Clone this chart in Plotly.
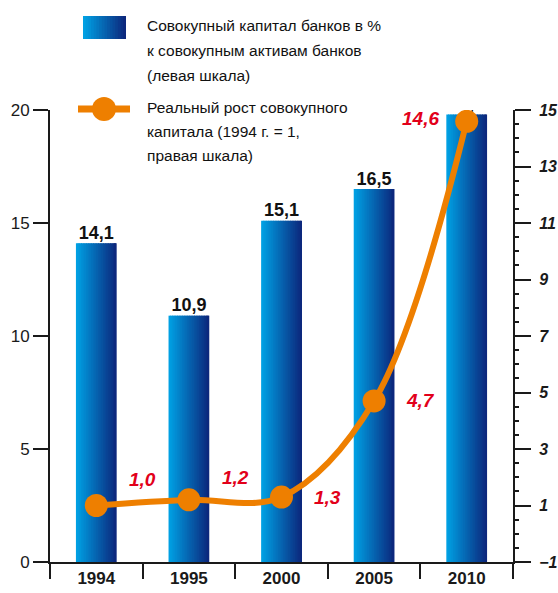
import plotly.graph_objects as go

# data
years = ["1994", "1995", "2000", "2005", "2010"]
capital_to_assets = [14.1, 10.9, 15.1, 16.5, 19.8]      # left scale, %
real_capital_growth = [1.0, 1.2, 1.3, 4.7, 14.6]         # right scale, 1994 = 1

bar_legend_lines = ["Совокупный капитал банков в %", "к совокупным активам банков", "(левая шкала)"]
line_legend_lines = ["Реальный рост совокупного", "капитала (1994 г. = 1,", "правая шкала)"]

FONT = "Liberation Sans, Arial, sans-serif"
ORANGE = "#ee7f00"
RED = "#e2001a"
AXIS = "#1a1a1a"
GRAD_LEFT = (0, 160, 227)
GRAD_RIGHT = (12, 40, 125)


def fmt(v):
    return f"{v:.1f}".replace(".", ",")


def grad_color(t):
    r, g, b = (round(a + (c - a) * t) for a, c in zip(GRAD_LEFT, GRAD_RIGHT))
    return f"rgb({r},{g},{b})"


fig = go.Figure()

# bars with a left-to-right gradient, built from thin overlaid slices
n_slices = 24
bar_w = 0.44
step = bar_w / n_slices
for i in range(n_slices):
    fig.add_trace(
        go.Bar(
            x=years,
            y=capital_to_assets,
            width=step * 1.6 if i < n_slices - 1 else step,
            offset=-bar_w / 2 + i * step,
            marker=dict(color=grad_color(i / (n_slices - 1)), line_width=0),
            showlegend=False,
            hoverinfo="skip",
        )
    )

# bar value labels
fig.add_trace(
    go.Scatter(
        x=years,
        y=capital_to_assets,
        mode="text",
        text=[fmt(v) for v in capital_to_assets],
        textposition="top center",
        textfont=dict(size=18, color="#111111", weight="bold", family=FONT),
        showlegend=False,
        hoverinfo="skip",
    )
)

# real capital growth line on the right axis
fig.add_trace(
    go.Scatter(
        x=years,
        y=real_capital_growth,
        yaxis="y2",
        mode="lines+markers",
        line=dict(color=ORANGE, width=6, shape="spline", smoothing=1),
        marker=dict(size=23, color=ORANGE),
        showlegend=False,
    )
)

# red value labels for the line
label_x = [0.5, 1.5, 2.5, 3.5, 3.5]
label_shift = [26, 22, 0, 0, 3]
annotations = []
for v, lx, ys in zip(real_capital_growth, label_x, label_shift):
    annotations.append(
        dict(
            x=lx, y=v, xref="x", yref="y2", yshift=ys,
            text=fmt(v), showarrow=False,
            font=dict(size=19, color=RED, weight="bold", style="italic", family=FONT),
        )
    )

# custom legend (top left), one annotation per text line
legend_font = dict(size=15.5, color="#111111", family=FONT)
for lines, centers in ((bar_legend_lines, [25, 50, 75]), (line_legend_lines, [107, 131, 155])):
    for line, cy in zip(lines, centers):
        annotations.append(
            dict(x=0, y=1, xref="paper", yref="paper", xshift=95, yshift=110 - cy,
                 xanchor="left", yanchor="middle", align="left", showarrow=False,
                 text=line, font=legend_font)
        )

shapes = []
icon_l, icon_r = 33, 76
icon_slices = 16
icon_step = (icon_r - icon_l) / icon_slices
for i in range(icon_slices):
    shapes.append(
        dict(
            type="rect", xref="paper", yref="paper",
            xsizemode="pixel", ysizemode="pixel", xanchor=0, yanchor=1,
            x0=icon_l + i * icon_step, x1=icon_l + (i + 1.5) * icon_step if i < icon_slices - 1 else icon_r,
            y0=71, y1=94,
            fillcolor=grad_color(i / (icon_slices - 1)), line_width=0, layer="above",
        )
    )
shapes.append(
    dict(type="line", xref="paper", yref="paper",
         xsizemode="pixel", ysizemode="pixel", xanchor=0, yanchor=1,
         x0=28, x1=80, y0=1, y1=1, line=dict(color=ORANGE, width=7), layer="above")
)
shapes.append(
    dict(type="circle", xref="paper", yref="paper",
         xsizemode="pixel", ysizemode="pixel", xanchor=0, yanchor=1,
         x0=42, x1=66, y0=-11, y1=13, fillcolor=ORANGE, line_width=0, layer="above")
)

fig.update_layout(
    width=558,
    height=593,
    margin=dict(l=50, r=45, t=110, b=31),
    barmode="overlay",
    plot_bgcolor="white",
    paper_bgcolor="white",
    font=dict(family=FONT, color=AXIS),
    showlegend=False,
    annotations=annotations,
    shapes=shapes,
    xaxis=dict(
        type="category",
        range=[-0.5, 4.5],
        automargin=False,
        tickson="boundaries",
        ticks="outside",
        ticklen=15,
        tickwidth=2,
        tickcolor=AXIS,
        showline=True,
        linewidth=2,
        linecolor=AXIS,
        showgrid=False,
        tickfont=dict(size=17, weight="bold", family=FONT),
    ),
    yaxis=dict(
        range=[0, 20],
        automargin=False,
        tickvals=[0, 5, 10, 15, 20],
        ticks="outside",
        ticklen=15,
        tickwidth=2,
        tickcolor=AXIS,
        showline=True,
        linewidth=2,
        linecolor=AXIS,
        showgrid=False,
        zeroline=False,
        tickfont=dict(size=17, family=FONT),
    ),
    yaxis2=dict(
        overlaying="y",
        side="right",
        range=[-1, 15],
        automargin=False,
        tick0=-1,
        dtick=2,
        ticks="outside",
        ticklen=16,
        tickwidth=2,
        tickcolor=AXIS,
        minor=dict(tick0=-1, dtick=0.5, ticks="outside", ticklen=4, tickwidth=1.5, tickcolor=AXIS),
        showline=True,
        linewidth=2,
        linecolor=AXIS,
        showgrid=False,
        zeroline=False,
        ticklabelstandoff=5,
        tickfont=dict(size=16, weight="bold", style="italic", family=FONT),
    ),
)

# drop the default page margin so the figure fills the window exactly
fig.write_html(
    "out.html",
    config={"displayModeBar": False},
    post_script="document.body.style.margin = '0';",
)
